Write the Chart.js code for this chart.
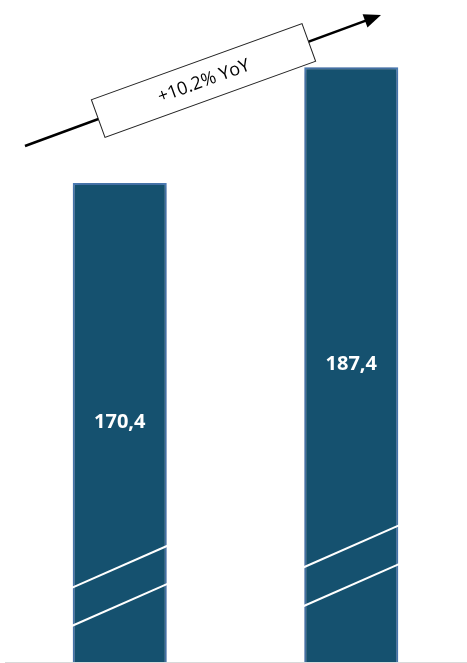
<!DOCTYPE html>
<html>
<head>
<meta charset="utf-8">
<script src="https://cdn.jsdelivr.net/npm/chart.js@4/dist/chart.umd.min.js"></script>
<style>
  html, body { margin: 0; padding: 0; background: #fff; }
  #wrap { width: 467px; height: 663px; position: relative; }
</style>
</head>
<body>
<div id="wrap"><canvas id="chart"></canvas></div>
<script>
// data
const categories = ['Year 1', 'Year 2'];
const values = [170.4, 187.4];
const valueLabels = ['170,4', '187,4'];
// axis is cut: values where the two white break strokes cross each bar centre
const breakValues = [[114.0, 108.4], [117.0, 111.3]];
const growthLabel = '+10.2% YoY';

const barColor = '#15516f';
const barBorder = '#4f81bd';

// soft shadow round the bars
const shadowPlugin = {
    id: 'barShadow',
    beforeDatasetsDraw(chart) {
        const ctx = chart.ctx;
        ctx.save();
        ctx.shadowColor = 'rgba(0,0,0,0.35)';
        ctx.shadowBlur = 7;
        ctx.shadowOffsetX = 0;
        ctx.shadowOffsetY = 0;
    },
    afterDatasetsDraw(chart) {
        chart.ctx.restore();
    }
};

const decorPlugin = {
    id: 'decor',
    afterDraw(chart) {
        const ctx = chart.ctx;
        const area = chart.chartArea;
        const yScale = chart.scales.y;
        const meta = chart.getDatasetMeta(0);

        // baseline
        ctx.save();
        ctx.strokeStyle = '#d9d9d9';
        ctx.lineWidth = 1;
        ctx.beginPath();
        ctx.moveTo(5, area.bottom + 0.5);
        ctx.lineTo(chart.width, area.bottom + 0.5);
        ctx.stroke();
        ctx.restore();

        meta.data.forEach((bar, i) => {
            const top = yScale.getPixelForValue(values[i]);
            const bottom = yScale.getPixelForValue(yScale.min);

            // value label in the middle of the bar
            ctx.save();
            ctx.fillStyle = '#ffffff';
            ctx.font = 'bold 20px "Open Sans", sans-serif';
            ctx.textAlign = 'center';
            ctx.textBaseline = 'middle';
            ctx.fillText(valueLabels[i], bar.x, (top + bottom) / 2);
            ctx.restore();

            // axis break strokes
            ctx.save();
            ctx.strokeStyle = '#ffffff';
            ctx.lineWidth = 2;
            const slope = -0.44;
            breakValues[i].forEach(v => {
                const yc = yScale.getPixelForValue(v);
                const x1 = bar.x - bar.width / 2 - 5;
                const x2 = bar.x + bar.width / 2 + 3;
                ctx.beginPath();
                ctx.moveTo(x1, yc + slope * (x1 - bar.x));
                ctx.lineTo(x2, yc + slope * (x2 - bar.x));
                ctx.stroke();
            });
            ctx.restore();
        });

        // growth arrow with label box
        const sx = 25, sy = 146, ex = 381, ey = 15;
        const ang = Math.atan2(ey - sy, ex - sx);
        ctx.save();
        ctx.strokeStyle = '#000';
        ctx.fillStyle = '#000';
        ctx.lineWidth = 2.5;
        ctx.beginPath();
        ctx.moveTo(sx, sy);
        ctx.lineTo(ex - 14 * Math.cos(ang), ey - 14 * Math.sin(ang));
        ctx.stroke();
        ctx.translate(ex, ey);
        ctx.rotate(ang);
        ctx.beginPath();
        ctx.moveTo(0, 0);
        ctx.lineTo(-17, -7);
        ctx.lineTo(-17, 7);
        ctx.closePath();
        ctx.fill();
        ctx.restore();

        ctx.save();
        ctx.translate(203.5, 80.5);
        ctx.rotate(-19.9 * Math.PI / 180);
        ctx.fillStyle = '#fff';
        ctx.strokeStyle = '#222';
        ctx.lineWidth = 1;
        ctx.fillRect(-112, -20, 224, 40);
        ctx.strokeRect(-112, -20, 224, 40);
        ctx.fillStyle = '#000';
        ctx.font = '18px "Open Sans", sans-serif';
        ctx.textAlign = 'center';
        ctx.textBaseline = 'middle';
        ctx.fillText(growthLabel, 0, 1);
        ctx.restore();
    }
};

new Chart(document.getElementById('chart'), {
    type: 'bar',
    data: {
        labels: categories,
        datasets: [{
            data: values,
            backgroundColor: barColor,
            borderColor: barBorder,
            borderWidth: 2,
            borderSkipped: false,
            categoryPercentage: 1,
            barPercentage: 0.406
        }]
    },
    options: {
        responsive: true,
        maintainAspectRatio: false,
        animation: false,
        layout: { padding: { left: 4, right: 0, top: 0, bottom: 1 } },
        plugins: {
            legend: { display: false },
            tooltip: { enabled: false }
        },
        scales: {
            x: { display: false },
            y: { display: false, min: 100, max: 197.3 }
        }
    },
    plugins: [shadowPlugin, decorPlugin]
});
</script>
</body>
</html>
